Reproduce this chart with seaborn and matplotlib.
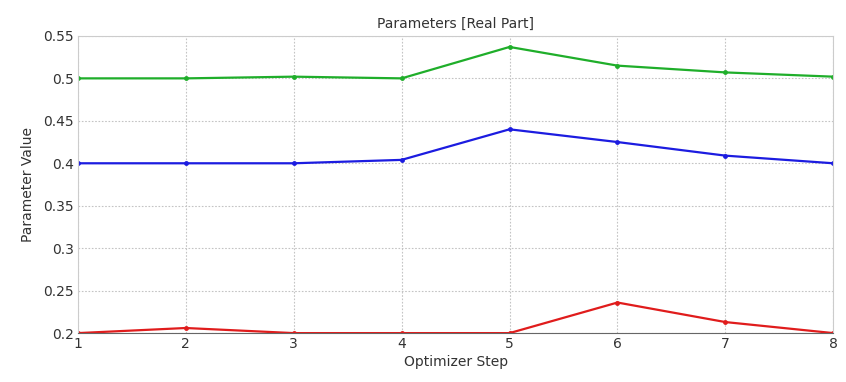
import matplotlib
matplotlib.use("Agg")
import matplotlib.pyplot as plt
import seaborn as sns
import pandas as pd

steps = [1, 2, 3, 4, 5, 6, 7, 8]
green_vals = [0.500, 0.500, 0.502, 0.500, 0.537, 0.515, 0.507, 0.502]
blue_vals = [0.400, 0.400, 0.400, 0.404, 0.440, 0.425, 0.409, 0.400]
red_vals = [0.200, 0.206, 0.200, 0.200, 0.200, 0.236, 0.213, 0.200]
series_names = ["green", "blue", "red"]
colors = ["#1fae2a", "#1c1ce0", "#e01c1c"]
yticks = [0.2, 0.25, 0.3, 0.35, 0.4, 0.45, 0.5, 0.55]
ytick_labels = ["0.2", "0.25", "0.3", "0.35", "0.4", "0.45", "0.5", "0.55"]

rows = []
for name, vals in zip(series_names, [green_vals, blue_vals, red_vals]):
    for s, v in zip(steps, vals):
        rows.append({"step": s, "value": v, "series": name})
df = pd.DataFrame(rows)

sns.set_style("white")
plt.rcParams['font.family'] = ['DejaVu Sans']

fig = plt.figure(figsize=(8.46, 3.82), dpi=100)
ax = fig.add_axes([0.092, 0.128, 0.893, 0.778])
sns.lineplot(data=df, x="step", y="value", hue="series", palette=dict(zip(series_names, colors)),
             marker="o", markersize=3.5, markeredgewidth=0, linewidth=1.6, legend=False, ax=ax)

ax.set_xlim(1, 8)
ax.set_ylim(0.2, 0.55)
ax.set_xticks(steps)
ax.set_xticklabels([str(s) for s in steps], fontsize=10, color="#333333")
ax.set_yticks(yticks)
ax.set_yticklabels(ytick_labels, fontsize=10, color="#333333")
ax.tick_params(length=0, pad=3)
ax.grid(True, linestyle=(0, (1.5, 1.5)), color="#c4c4c4", linewidth=0.8)
for sp in ax.spines.values():
    sp.set_color("#cccccc")
    sp.set_linewidth(0.8)
ax.spines["bottom"].set_color("#666666")
ax.set_xlabel("Optimizer Step", fontsize=10, color="#333333", labelpad=3)
ax.set_ylabel("Parameter Value", fontsize=10, color="#333333", labelpad=6)
ax.set_title("Parameters [Real Part]", fontsize=10, color="#333333", pad=6)

fig.savefig("out.png", dpi=100)
